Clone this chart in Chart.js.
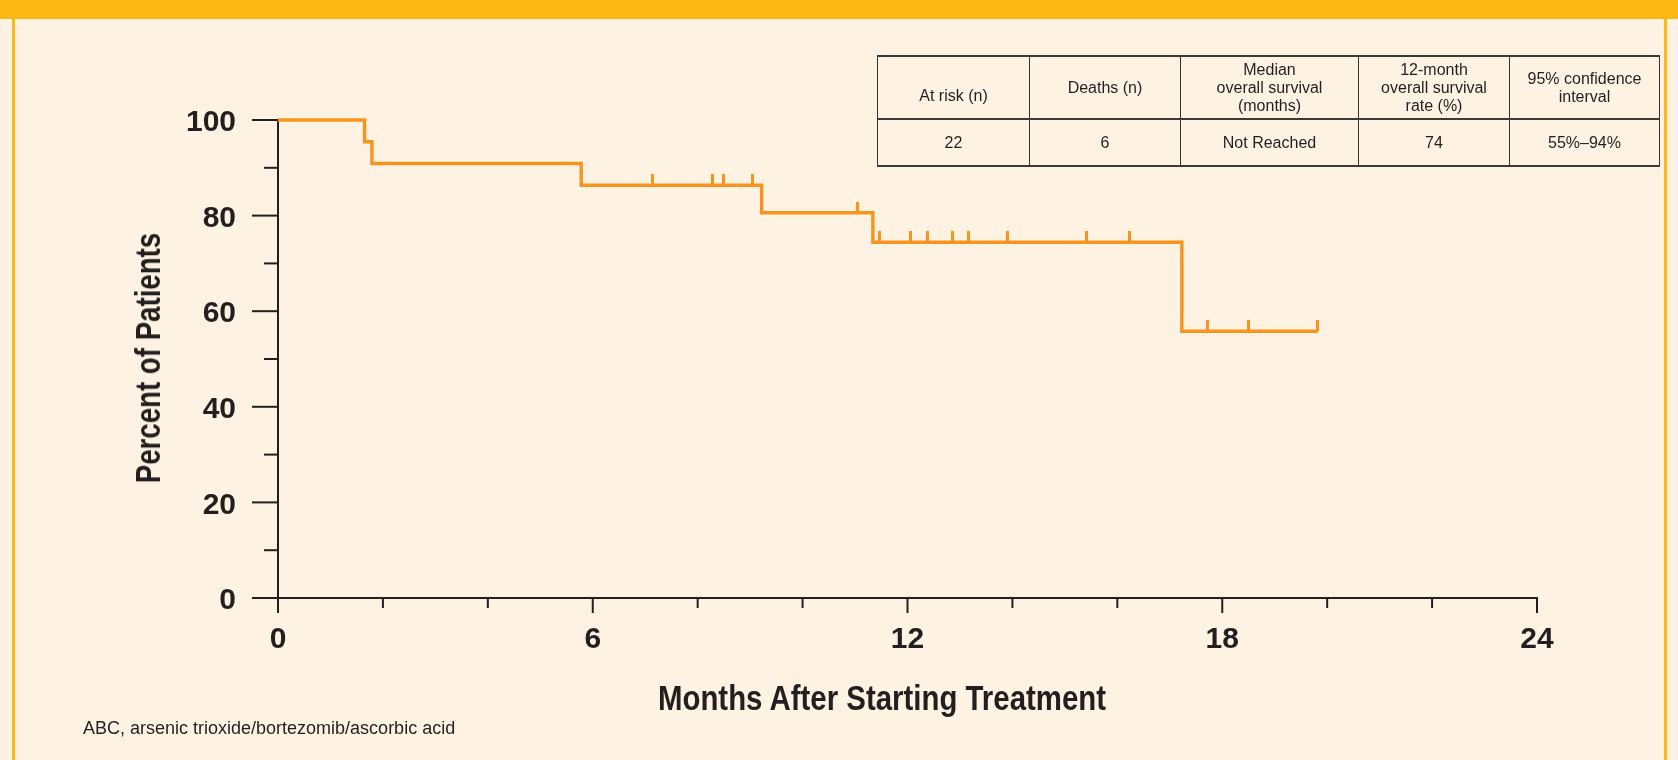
<!DOCTYPE html>
<html>
<head>
<meta charset="utf-8">
<script src="https://cdn.jsdelivr.net/npm/chart.js@4.4.1/dist/chart.umd.min.js"></script>
<style>
  html, body { margin: 0; padding: 0; width: 1678px; height: 760px; overflow: hidden; background: #FEF2E2; }
  #banner { position: absolute; left: 0; top: 0; width: 1678px; height: 19px; background: #FDB913; }
  #lb { position: absolute; left: 12px; top: 19px; width: 3px; height: 741px; background: #FDB913; }
  #rb { position: absolute; left: 1664px; top: 19px; width: 3px; height: 741px; background: #FDB913; }
  #chart { position: absolute; left: 0; top: 0; }
  #xtitle { position: absolute; left: 882px; top: 698px; transform: translate(-50%, -50%) scaleX(0.84); white-space: nowrap;
            font: bold 35px 'Liberation Sans', sans-serif; line-height: 40px; color: #231F20; }
  #ytitle { position: absolute; left: 148px; top: 358px; transform: translate(-50%, -50%) rotate(-90deg) scaleX(0.79); white-space: nowrap;
            font: bold 35px 'Liberation Sans', sans-serif; line-height: 40px; color: #231F20; }
  #foot { position: absolute; left: 83px; top: 718px; white-space: nowrap;
          font: 18px 'Liberation Sans', sans-serif; line-height: 20px; color: #231F20; }
  #tbl { position: absolute; left: 877px; top: 55px; border-collapse: collapse; table-layout: fixed; width: 782px; }
  #tbl td { border-left: 1px solid #333; border-right: 1px solid #333; text-align: center; vertical-align: middle;
            padding: 0; font: 16px 'Liberation Sans', sans-serif; line-height: 18px; color: #231F20; white-space: pre-line; }
  #tbl tr.h td { height: 61px; border-top: 2px solid #3a3a3a; border-bottom: 2px solid #3a3a3a; }
  #tbl tr.d td { height: 45px; border-bottom: 2px solid #3a3a3a; }
  #tbl span.low { position: relative; top: 8px; }
</style>
</head>
<body>
<div id="banner"></div>
<div id="lb"></div>
<div id="rb"></div>
<canvas id="chart" width="1678" height="760"></canvas>
<div id="xtitle"></div>
<div id="ytitle"></div>
<div id="foot"></div>
<table id="tbl"><colgroup id="cols"></colgroup><tbody id="tb"></tbody></table>
<script>
// ---------- data ----------
const KM_TIMES = [0, 1.65, 1.79, 5.78, 9.22, 11.34, 17.23, 19.82];
const KM_SURV  = [100, 95.45, 90.91, 86.36, 80.61, 74.41, 55.81, 55.81];
const CENSOR_TIMES = [7.13, 8.28, 8.50, 9.05, 11.04, 11.47, 12.06, 12.39, 12.85, 13.17, 13.90, 15.41, 16.23, 17.72, 18.50, 19.82];
const CENSOR_SURV  = [86.36, 86.36, 86.36, 86.36, 80.61, 74.41, 74.41, 74.41, 74.41, 74.41, 74.41, 74.41, 74.41, 55.81, 55.81, 55.81];
const X_TICK_LABELS = ['0', '6', '12', '18', '24'];
const Y_TICK_LABELS = ['0', '20', '40', '60', '80', '100'];
const X_TITLE = 'Months After Starting Treatment';
const Y_TITLE = 'Percent of Patients';
const FOOTNOTE = 'ABC, arsenic trioxide/bortezomib/ascorbic acid';
const TABLE_HEADERS = ['At risk (n)', 'Deaths (n)', 'Median\noverall survival\n(months)', '12-month\noverall survival\nrate (%)', '95% confidence\ninterval'];
const TABLE_VALUES  = ['22', '6', 'Not Reached', '74', '55%\u201394%'];

// ---------- styling ----------
const ORANGE = '#F7941D';
const INK = '#231F20';
const COL_WIDTHS = [152, 151, 178, 151, 150];

document.getElementById('xtitle').textContent = X_TITLE;
document.getElementById('ytitle').textContent = Y_TITLE;
document.getElementById('foot').textContent = FOOTNOTE;
const cols = document.getElementById('cols');
COL_WIDTHS.forEach(w => { const c = document.createElement('col'); c.style.width = w + 'px'; cols.appendChild(c); });
const tb = document.getElementById('tb');
const trh = document.createElement('tr'); trh.className = 'h';
TABLE_HEADERS.forEach((t, i) => {
  const td = document.createElement('td');
  if (i === 0) { const s = document.createElement('span'); s.className = 'low'; s.textContent = t; td.appendChild(s); }
  else td.textContent = t;
  trh.appendChild(td);
});
const trd = document.createElement('tr'); trd.className = 'd';
TABLE_VALUES.forEach(t => { const td = document.createElement('td'); td.textContent = t; trd.appendChild(td); });
tb.appendChild(trh); tb.appendChild(trd);

// censor tick mark image (drawn above the point)
const censorMark = document.createElement('canvas');
censorMark.width = 3; censorMark.height = 22;
(function(){ const c = censorMark.getContext('2d'); c.fillStyle = ORANGE; c.fillRect(0, 0, 3, 11); })();

const axesPlugin = {
  id: 'kmAxes',
  beforeDatasetsDraw(chart) {
    const { ctx, scales: { x, y } } = chart;
    const x0 = x.getPixelForValue(0), xEnd = x.getPixelForValue(24);
    const y0 = y.getPixelForValue(0), yTop = y.getPixelForValue(100);
    ctx.save();
    ctx.strokeStyle = INK; ctx.lineWidth = 2; ctx.lineCap = 'butt';
    const ln = (a, b, c, d) => { ctx.beginPath(); ctx.moveTo(a, b); ctx.lineTo(c, d); ctx.stroke(); };
    ln(x0, yTop, x0, y0);
    ln(x0, y0, xEnd, y0);
    y.ticks.forEach(t => { const py = y.getPixelForValue(t.value); const len = (t.value % 20 === 0) ? 26 : 14; ln(x0 - len, py, x0, py); });
    x.ticks.forEach(t => { const px = x.getPixelForValue(t.value); const len = (t.value % 6 === 0) ? 15 : 10; ln(px, y0 - 1, px, y0 + len); });
    ctx.restore();
  }
};

new Chart(document.getElementById('chart'), {
  type: 'line',
  data: {
    datasets: [
      {
        data: KM_TIMES.map((t, i) => ({ x: t, y: KM_SURV[i] })),
        stepped: true, clip: 10,
        borderColor: ORANGE, borderWidth: 3.4, pointRadius: 0, fill: false
      },
      {
        data: CENSOR_TIMES.map((t, i) => ({ x: t, y: CENSOR_SURV[i] })),
        showLine: false, clip: 10,
        pointStyle: censorMark, pointRadius: 5, pointHoverRadius: 5,
        borderColor: ORANGE, backgroundColor: ORANGE
      }
    ]
  },
  options: {
    responsive: false, animation: false, devicePixelRatio: 1,
    layout: { padding: { left: 0, top: 120, right: 141, bottom: 0 } },
    plugins: { legend: { display: false }, tooltip: { enabled: false } },
    scales: {
      x: {
        type: 'linear', min: 0, max: 24,
        grid: { display: false, drawTicks: false }, border: { display: false },
        ticks: {
          stepSize: 2, autoSkip: false, maxRotation: 0, padding: 24, color: INK,
          font: { family: 'Liberation Sans', weight: 'bold', size: 30 },
          callback: v => X_TICK_LABELS.includes(String(v)) ? String(v) : ''
        },
        afterFit: s => { s.height = 162; }
      },
      y: {
        min: 0, max: 100,
        grid: { display: false, drawTicks: false }, border: { display: false },
        ticks: {
          stepSize: 10, autoSkip: false, padding: 42, labelOffset: 3, color: INK,
          font: { family: 'Liberation Sans', weight: 'bold', size: 30 },
          callback: v => Y_TICK_LABELS.includes(String(v)) ? String(v) : ''
        },
        afterFit: s => { s.width = 278; }
      }
    }
  },
  plugins: [axesPlugin]
});
</script>
</body>
</html>
